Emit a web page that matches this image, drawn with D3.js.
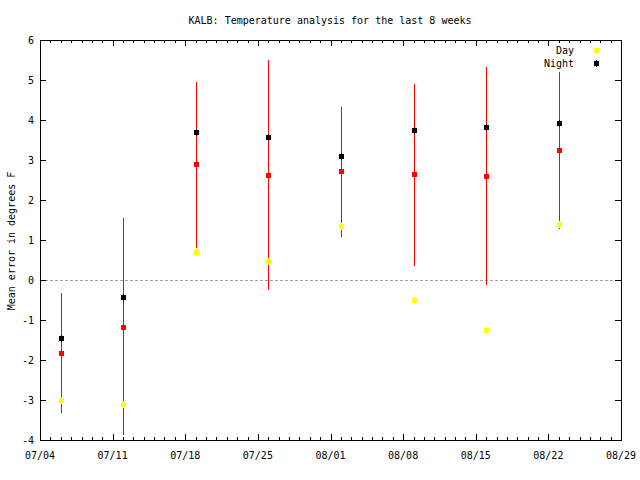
<!DOCTYPE html>
<html>
<head>
<meta charset="UTF-8">
<title>KALB temperature analysis</title>
<style>
  body { margin: 0; background: #fff; }
  svg { display: block; }
  text { font-family: 'DejaVu Sans Mono', monospace; font-size: 10px; fill: #000; }
</style>
<script src="https://d3js.org/d3.v7.min.js"></script>
</head>
<body>
<div id="chart"></div>
<script>
  // week points (mm/dd) and mean errors in degrees F
  const dates = ["07/06", "07/12", "07/19", "07/26", "08/02", "08/09", "08/16", "08/23"];
  const day   = [-3.01, -3.11, 0.69, 0.47, 1.34, -0.51, -1.26, 1.39];
  const night = [-1.46, -0.43, 3.69, 3.57, 3.09, 3.74, 3.82, 3.92];
  const mean  = [-1.83, -1.18, 2.89, 2.62, 2.72, 2.64, 2.59, 3.24];
  const low   = [-3.32, -3.88, 0.80, -0.25, 1.08, 0.36, -0.12, 1.28];
  const high  = [-0.32, 1.55, 4.95, 5.50, 4.33, 4.90, 5.33, 5.20];

  const xTicks = ["07/04", "07/11", "07/18", "07/25", "08/01", "08/08", "08/15", "08/22", "08/29"];
  const yTicks = [-4, -3, -2, -1, 0, 1, 2, 3, 4, 5, 6];

  const W = 640, H = 480,
        M = { top: 40, right: 19, bottom: 40, left: 40 };

  const parse = d3.utcParse("%m/%d");
  const tickDates = xTicks.map(parse);

  const svg = d3.select('#chart').append('svg')
    .attr('width', W).attr('height', H);

  const x = d3.scaleUtc()
    .domain([tickDates[0], tickDates[tickDates.length - 1]])
    .range([M.left, W - M.right]);
  const y = d3.scaleLinear()
    .domain([-4, 6])
    .range([H - M.bottom, M.top]);

  const px = v => Math.round(v) + 0.5;

  // zero line
  svg.append('line')
    .attr('x1', M.left).attr('x2', W - M.right)
    .attr('y1', px(y(0))).attr('y2', px(y(0)))
    .attr('stroke', '#a0a0a0').attr('stroke-dasharray', '3,2');

  // ticks, mirrored on both sides
  const g = svg.append('g').attr('stroke', '#000').attr('shape-rendering', 'crispEdges');
  const minor = d3.utcDay.range(tickDates[0], tickDates[tickDates.length - 1]);
  minor.forEach(d => {
    const xx = px(x(d));
    g.append('line').attr('x1', xx).attr('x2', xx).attr('y1', y(-4)).attr('y2', y(-4) - 3);
    g.append('line').attr('x1', xx).attr('x2', xx).attr('y1', y(6)).attr('y2', y(6) + 3);
  });
  tickDates.forEach(d => {
    const xx = px(x(d));
    g.append('line').attr('x1', xx).attr('x2', xx).attr('y1', y(-4)).attr('y2', y(-4) - 6);
    g.append('line').attr('x1', xx).attr('x2', xx).attr('y1', y(6)).attr('y2', y(6) + 6);
  });
  yTicks.forEach(v => {
    const yy = px(y(v));
    g.append('line').attr('x1', M.left).attr('x2', M.left + 6).attr('y1', yy).attr('y2', yy);
    g.append('line').attr('x1', W - M.right).attr('x2', W - M.right - 6).attr('y1', yy).attr('y2', yy);
  });

  // border
  svg.append('rect')
    .attr('x', M.left + 0.5).attr('y', M.top + 0.5)
    .attr('width', W - M.left - M.right).attr('height', H - M.top - M.bottom)
    .attr('fill', 'none').attr('stroke', '#000').attr('shape-rendering', 'crispEdges');

  // tick labels
  svg.append('g').selectAll('text').data(xTicks).join('text')
    .attr('x', (d, i) => x(tickDates[i]))
    .attr('y', 459)
    .attr('text-anchor', 'middle')
    .text(d => d);
  svg.append('g').selectAll('text').data(yTicks).join('text')
    .attr('x', 34)
    .attr('y', d => y(d))
    .attr('dy', '0.35em')
    .attr('text-anchor', 'end')
    .text(d => d);

  svg.append('text')
    .attr('x', 330).attr('y', 24)
    .attr('text-anchor', 'middle')
    .text('KALB: Temperature analysis for the last 8 weeks');
  svg.append('text')
    .attr('transform', 'translate(15,241) rotate(-90)')
    .attr('text-anchor', 'middle')
    .text('Mean error in degrees F');

  // error bars
  const pts = dates.map(parse);
  svg.append('g').attr('shape-rendering', 'crispEdges').selectAll('line').data(pts).join('line')
    .attr('x1', d => px(x(d))).attr('x2', d => px(x(d)))
    .attr('y1', (d, i) => y(low[i])).attr('y2', (d, i) => y(high[i]))
    .attr('stroke', '#ff0000');

  function marker(sel, cx, cy, color) {
    sel.append('rect')
      .attr('x', Math.round(cx) - 2).attr('y', Math.round(cy) - 2)
      .attr('width', 5).attr('height', 5)
      .attr('fill', color);
    sel.append('rect')
      .attr('x', Math.round(cx)).attr('y', Math.round(cy) - 3)
      .attr('width', 1).attr('height', 7)
      .attr('fill', color);
  }

  const mk = svg.append('g').attr('shape-rendering', 'crispEdges');
  pts.forEach((d, i) => {
    marker(mk, x(d), y(mean[i]), '#ff0000');
    marker(mk, x(d), y(day[i]), '#ffff00');
    marker(mk, x(d), y(night[i]), '#000000');
  });

  // legend
  const legend = [["Day", "#ffff00"], ["Night", "#000000"]];
  legend.forEach(([name, color], i) => {
    svg.append('text')
      .attr('x', 574).attr('y', 54 + i * 12.5)
      .attr('text-anchor', 'end')
      .text(name);
    marker(mk, 596, 50 + i * 12.5, color);
  });
</script>
</body>
</html>
